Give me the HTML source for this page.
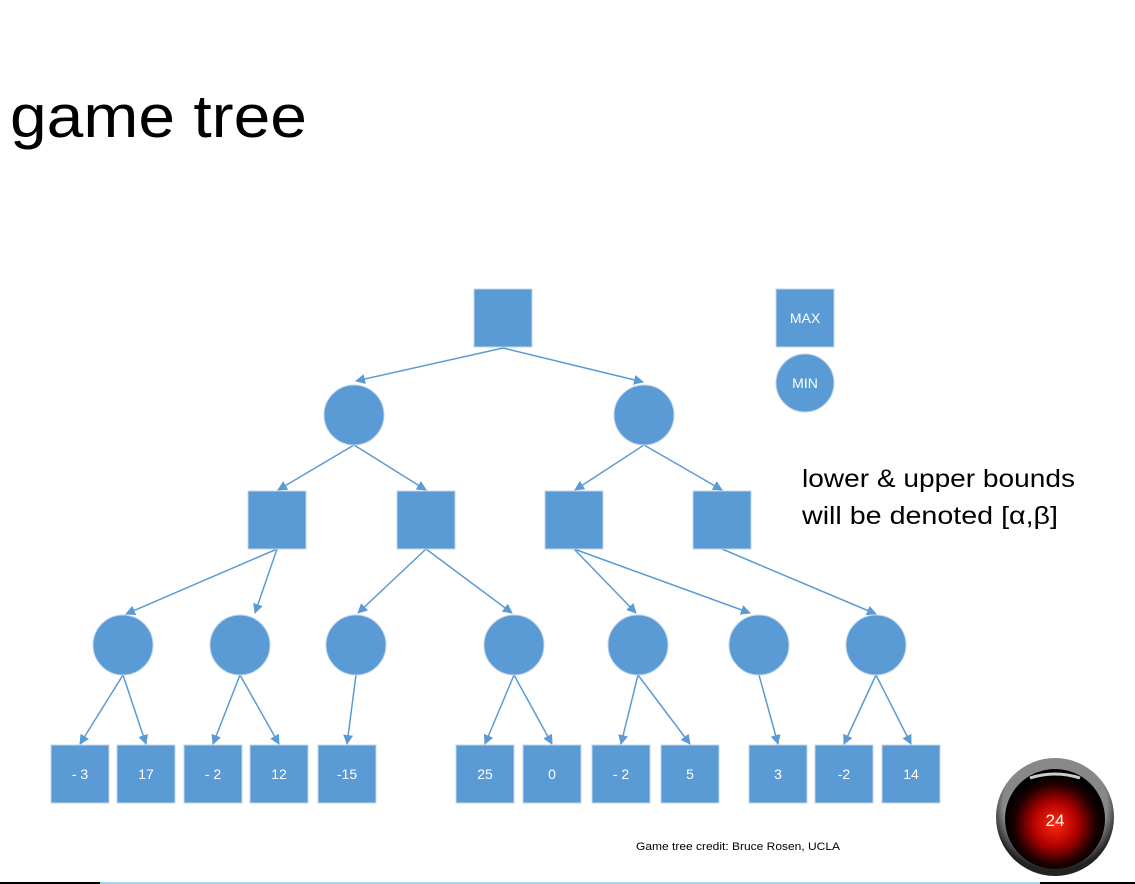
<!DOCTYPE html>
<html><head><meta charset="utf-8"><style>
html,body{margin:0;padding:0;background:#fff;width:1135px;height:884px;overflow:hidden;font-family:"Liberation Sans",sans-serif}
</style></head><body>
<svg width="1135" height="884" viewBox="0 0 1135 884" xmlns="http://www.w3.org/2000/svg">
<defs>
<marker id="a" markerWidth="10" markerHeight="10" refX="9" refY="5" orient="auto" markerUnits="userSpaceOnUse"><path d="M0,0 L10,5 L0,10 z" fill="#5b9bd5"/></marker>
<radialGradient id="red" cx="50%" cy="55%" r="50%"><stop offset="0" stop-color="#ff2a10"/><stop offset="0.45" stop-color="#b00000"/><stop offset="0.8" stop-color="#200000"/><stop offset="1" stop-color="#000"/></radialGradient>
<radialGradient id="rim" cx="50%" cy="40%" r="55%"><stop offset="0.8" stop-color="#888"/><stop offset="1" stop-color="#222"/></radialGradient>
</defs>
<text x="10" y="137" font-size="60" fill="#000" textLength="297" lengthAdjust="spacingAndGlyphs">game tree</text>
<g stroke="#5b9bd5" stroke-width="1.5" marker-end="url(#a)" fill="none">
<line x1="503" y1="348" x2="356" y2="381"/>
<line x1="503" y1="348" x2="643" y2="382"/>
<line x1="354" y1="445" x2="278" y2="490"/>
<line x1="354" y1="445" x2="426" y2="490"/>
<line x1="644" y1="445" x2="575" y2="490"/>
<line x1="644" y1="445" x2="722" y2="490"/>
<line x1="277" y1="549" x2="126" y2="614"/>
<line x1="277" y1="549" x2="255" y2="613"/>
<line x1="426" y1="549" x2="358" y2="613"/>
<line x1="426" y1="549" x2="512" y2="613"/>
<line x1="574" y1="549" x2="636" y2="613"/>
<line x1="574" y1="549" x2="750" y2="613"/>
<line x1="722" y1="549" x2="876" y2="614"/>
<line x1="123" y1="675" x2="80" y2="744"/>
<line x1="123" y1="675" x2="146" y2="744"/>
<line x1="240" y1="675" x2="213" y2="744"/>
<line x1="240" y1="675" x2="279" y2="744"/>
<line x1="356" y1="675" x2="347" y2="744"/>
<line x1="514" y1="675" x2="485" y2="744"/>
<line x1="514" y1="675" x2="552" y2="744"/>
<line x1="638" y1="675" x2="621" y2="744"/>
<line x1="638" y1="675" x2="690" y2="744"/>
<line x1="759" y1="675" x2="778" y2="744"/>
<line x1="876" y1="675" x2="844" y2="744"/>
<line x1="876" y1="675" x2="911" y2="744"/>
</g>
<g fill="#5b9bd5" stroke="#c5d5e8" stroke-width="1">
<rect x="474" y="289" width="58" height="58"/>
<rect x="776" y="289" width="58" height="58"/>
<circle cx="805" cy="383" r="29"/>
<ellipse cx="354" cy="415" rx="30" ry="30"/>
<ellipse cx="644" cy="415" rx="30" ry="30"/>
<rect x="248" y="491" width="58" height="58"/>
<rect x="397" y="491" width="58" height="58"/>
<rect x="545" y="491" width="58" height="58"/>
<rect x="693" y="491" width="58" height="58"/>
<circle cx="123" cy="645" r="30"/><circle cx="240" cy="645" r="30"/><circle cx="356" cy="645" r="30"/>
<circle cx="514" cy="645" r="30"/><circle cx="638" cy="645" r="30"/><circle cx="759" cy="645" r="30"/><circle cx="876" cy="645" r="30"/>
<rect x="51" y="745" width="58" height="58"/><rect x="117" y="745" width="58" height="58"/>
<rect x="184" y="745" width="58" height="58"/><rect x="250" y="745" width="58" height="58"/>
<rect x="318" y="745" width="58" height="58"/><rect x="456" y="745" width="58" height="58"/>
<rect x="523" y="745" width="58" height="58"/><rect x="592" y="745" width="58" height="58"/>
<rect x="661" y="745" width="58" height="58"/><rect x="749" y="745" width="58" height="58"/>
<rect x="815" y="745" width="58" height="58"/><rect x="882" y="745" width="58" height="58"/>
</g>
<g fill="#fff" font-size="14" text-anchor="middle">
<text x="805" y="323">MAX</text><text x="805" y="388">MIN</text>
<text x="80" y="779">- 3</text><text x="146" y="779">17</text><text x="213" y="779">- 2</text>
<text x="279" y="779">12</text><text x="347" y="779">-15</text><text x="485" y="779">25</text>
<text x="552" y="779">0</text><text x="621" y="779">- 2</text><text x="690" y="779">5</text>
<text x="778" y="779">3</text><text x="844" y="779">-2</text><text x="911" y="779">14</text>
</g>
<text x="802" y="487" font-size="25" fill="#000" textLength="273" lengthAdjust="spacingAndGlyphs">lower &amp; upper bounds</text>
<text x="802" y="524" font-size="25" fill="#000" textLength="256" lengthAdjust="spacingAndGlyphs">will be denoted [α,β]</text>
<text x="636" y="850" font-size="11" fill="#000" textLength="204" lengthAdjust="spacingAndGlyphs">Game tree credit:  Bruce Rosen, UCLA</text>
<circle cx="1055" cy="817" r="59" fill="url(#rim)"/>
<circle cx="1055" cy="819" r="50" fill="url(#red)"/>
<path d="M1030,778 Q1055,770 1080,778" stroke="#ccc" stroke-width="3" fill="none"/>
<text x="1055" y="826" font-size="17" fill="#fff" text-anchor="middle">24</text>
<line x1="0" y1="883" x2="100" y2="883" stroke="#000" stroke-width="2"/>
<line x1="100" y1="883" x2="1040" y2="883" stroke="#9fd8ea" stroke-width="2"/>
<line x1="1040" y1="883" x2="1135" y2="883" stroke="#000" stroke-width="2"/>
</svg>
</body></html>
